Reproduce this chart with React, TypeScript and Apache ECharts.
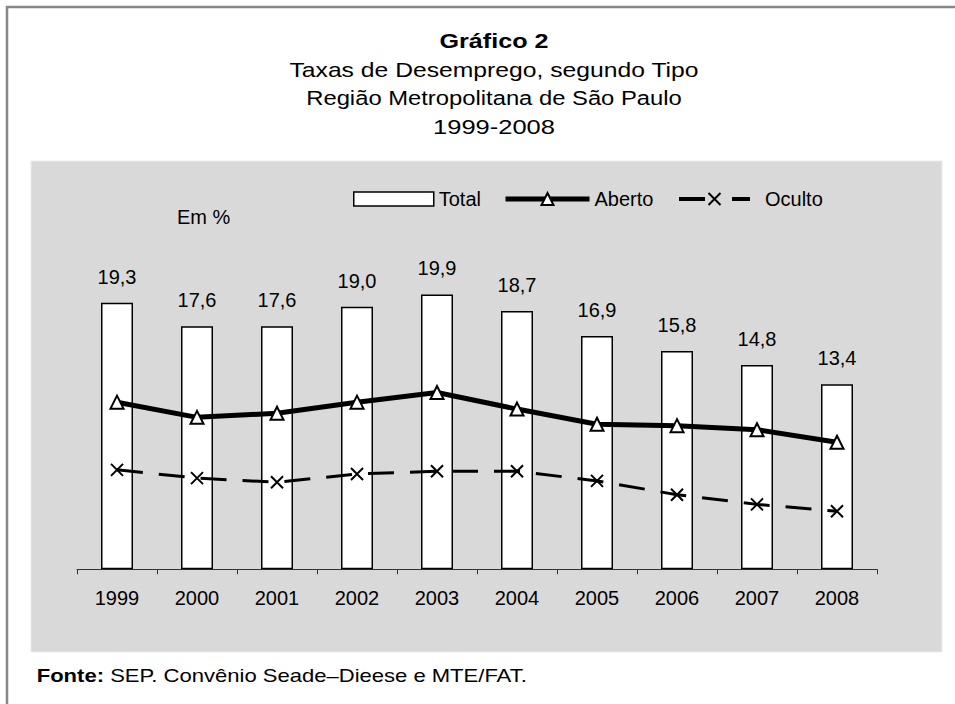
import React, { useEffect, useRef } from "react";
import * as echarts from "echarts";

const categories = ["1999", "2000", "2001", "2002", "2003", "2004", "2005", "2006", "2007", "2008"];
const totalValues = [19.3, 17.6, 17.6, 19.0, 19.9, 18.7, 16.9, 15.8, 14.8, 13.4];
const abertoValues = [12.1, 11.0, 11.3, 12.1, 12.8, 11.6, 10.5, 10.4, 10.1, 9.2];
const ocultoValues = [7.2, 6.6, 6.3, 6.9, 7.1, 7.1, 6.4, 5.4, 4.7, 4.2];
const seriesNames = ["Total", "Aberto", "Oculto"];
const titleLines = [
  "Gráfico 2",
  "Taxas de Desemprego, segundo Tipo",
  "Região Metropolitana de São Paulo",
  "1999-2008",
];
const unitLabel = "Em %";
const sourceLabel = "Fonte:";
const sourceText = " SEP. Convênio Seade–Dieese e MTE/FAT.";

const FONT = "'Liberation Sans', Arial, sans-serif";

export default function App() {
  const ref = useRef<HTMLDivElement>(null);

  useEffect(() => {
    document.body.style.margin = "0";
    if (!ref.current) return;
    const chart = echarts.init(ref.current, null, { renderer: "svg" });

    const titleY = [41, 70, 98.5, 127];
    const titleScale = [1.257, 1.235, 1.19, 1.276];

    const option: any = {
      animation: false,
      backgroundColor: "#ffffff",
      textStyle: { fontFamily: FONT },
      grid: { left: 77, top: 224, width: 800, height: 345.3, containLabel: false },
      xAxis: {
        type: "category",
        data: categories,
        boundaryGap: true,
        axisLine: { show: true, lineStyle: { color: "#333", width: 1 } },
        axisTick: { show: true, length: 5, lineStyle: { color: "#333", width: 1 } },
        axisLabel: { color: "#000", fontSize: 20, fontFamily: FONT, margin: 19 },
        splitLine: { show: false },
      },
      yAxis: {
        type: "value",
        min: 0,
        max: 25,
        show: false,
        splitLine: { show: false },
      },
      legend: [
        {
          data: [seriesNames[0]],
          left: 353,
          top: 189,
          padding: 0,
          icon: "rect",
          itemWidth: 80,
          itemHeight: 14,
          selectedMode: false,
          itemStyle: { borderWidth: 1.5, borderColor: "#000", color: "#fff" },
          textStyle: { fontSize: 20, color: "#000", fontFamily: FONT },
        },
        {
          data: [seriesNames[1]],
          left: 503,
          top: 189,
          padding: 0,
          itemWidth: 84,
          itemHeight: 15,
          selectedMode: false,
          lineStyle: { width: 5, color: "#000" },
          itemStyle: { borderWidth: 2, borderColor: "#000", color: "#fff" },
          textStyle: { fontSize: 20, color: "#000", fontFamily: FONT },
        },
        {
          data: [seriesNames[2]],
          left: 677,
          top: 189,
          padding: 0,
          itemWidth: 71,
          itemHeight: 15,
          selectedMode: false,
          lineStyle: { width: 4, color: "#000", type: [26, 27] },
          itemStyle: { borderWidth: 2, borderColor: "#000", color: "#000" },
          textStyle: { fontSize: 20, color: "#000", fontFamily: FONT, padding: [0, 0, 0, 10] },
        },
      ],
      series: [
        {
          name: seriesNames[0],
          type: "bar",
          data: totalValues,
          barWidth: 32,
          itemStyle: { color: "#ffffff", borderColor: "#000", borderWidth: 1.5 },
          label: {
            show: true,
            position: "top",
            distance: 16,
            color: "#000",
            fontSize: 20,
            fontFamily: FONT,
            formatter: (p: any) => Number(p.value).toFixed(1).replace(".", ","),
          },
          z: 2,
        },
        {
          name: seriesNames[1],
          type: "line",
          data: abertoValues,
          symbol: "triangle",
          symbolSize: 13,
          lineStyle: { color: "#000", width: 5 },
          itemStyle: { color: "#ffffff", borderColor: "#000", borderWidth: 2 },
          z: 3,
        },
        {
          name: seriesNames[2],
          type: "line",
          data: ocultoValues,
          symbol: "path://M0,0L10,10M10,0L0,10",
          symbolSize: 12,
          lineStyle: { color: "#000", width: 3, type: [26, 16] },
          itemStyle: { color: "#000", borderColor: "#000", borderWidth: 2 },
          z: 3,
        },
      ],
      graphic: [
        {
          type: "rect",
          z: -10,
          silent: true,
          shape: { x: 31, y: 161, width: 911, height: 491 },
          style: { fill: "#d9d9d9", stroke: "#ebebeb", lineWidth: 1 },
        },
        {
          type: "polyline",
          z: -10,
          silent: true,
          shape: { points: [[7, 710], [7, 7], [960, 7]] },
          style: { stroke: "#888888", lineWidth: 2.5, fill: "none" },
        },
        ...titleLines.map((t, i) => ({
          type: "text",
          x: 494,
          y: titleY[i],
          scaleX: titleScale[i],
          silent: true,
          style: {
            text: t,
            fontSize: 20,
            fontWeight: i === 0 ? "bold" : "normal",
            fontFamily: FONT,
            fill: "#000",
            align: "center",
            verticalAlign: "middle",
          },
        })),
        {
          type: "text",
          x: 177,
          y: 217,
          silent: true,
          style: {
            text: unitLabel,
            fontSize: 20,
            fontFamily: FONT,
            fill: "#000",
            align: "left",
            verticalAlign: "middle",
          },
        },
        {
          type: "text",
          x: 36.7,
          y: 675,
          scaleX: 1.16,
          silent: true,
          style: {
            text: "{b|" + sourceLabel + "}{n|" + sourceText + "}",
            fontSize: 19,
            fontFamily: FONT,
            fill: "#000",
            align: "left",
            verticalAlign: "middle",
            rich: {
              b: { fontSize: 19, fontWeight: "bold", fontFamily: FONT, fill: "#000" },
              n: { fontSize: 19, fontFamily: FONT, fill: "#000" },
            },
          },
        },
      ],
    };

    chart.setOption(option);
    return () => {
      chart.dispose();
    };
  }, []);

  return <div ref={ref} style={{ width: 955, height: 704 }} />;
}
